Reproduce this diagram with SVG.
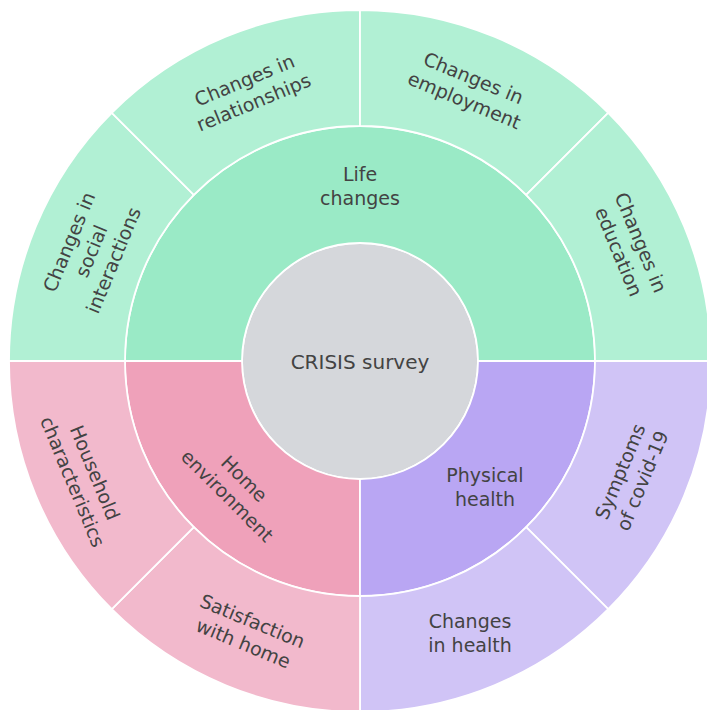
<svg xmlns="http://www.w3.org/2000/svg" width="707" height="710" viewBox="0 0 707 710">
<style>
.seg{stroke:#ffffff;stroke-width:1.8;stroke-linejoin:round}
.g1{fill:#9aeac6}.g2{fill:#b1f0d4}
.p1{fill:#efa1ba}.p2{fill:#f2b9cc}
.v1{fill:#b9a6f3}.v2{fill:#d0c4f6}
.core{fill:#d5d7db}
text{font-family:"DejaVu Sans",Verdana,sans-serif;font-size:19px;fill:#434343;text-anchor:middle}
.big{font-size:20px}
</style>
<rect width="707" height="710" fill="#ffffff"/>
<g id="connectors"></g>
<g id="node-crisis-survey">
<circle class="seg core" cx="360" cy="361" r="118"/>
<text class="big" x="360" y="369">CRISIS survey</text>
</g>
<g id="node-life-changes">
<path class="seg g1" d="M125 361 A235 235 0 0 1 595 361 L478 361 A118 118 0 0 0 242 361 Z"/>
<text transform="translate(360,186)"><tspan x="0" y="-5">Life</tspan><tspan x="0" y="19">changes</tspan></text>
</g>
<g id="node-home-environment">
<path class="seg p1" d="M360 596 A235 235 0 0 1 125 361 L242 361 A118 118 0 0 0 360 479 Z"/>
<text transform="translate(236,487) rotate(45)"><tspan x="0" y="-5">Home</tspan><tspan x="0" y="19">environment</tspan></text>
</g>
<g id="node-physical-health">
<path class="seg v1" d="M595 361 A235 235 0 0 1 360 596 L360 479 A118 118 0 0 0 478 361 Z"/>
<text transform="translate(485,487)"><tspan x="0" y="-5">Physical</tspan><tspan x="0" y="19">health</tspan></text>
</g>
<g id="node-changes-in-social-interactions">
<path class="seg g2" d="M9 361 A351 351 0 0 1 111.8 112.8 L193.8 194.8 A235 235 0 0 0 125 361 Z"/>
<text transform="translate(91,251) rotate(-67.5)"><tspan x="0" y="-17">Changes in</tspan><tspan x="0" y="7">social</tspan><tspan x="0" y="31">interactions</tspan></text>
</g>
<g id="node-changes-in-relationships">
<path class="seg g2" d="M111.8 112.8 A351 351 0 0 1 360 10 L360 126 A235 235 0 0 0 193.8 194.8 Z"/>
<text transform="translate(249,91) rotate(-22.5)"><tspan x="0" y="-5">Changes in</tspan><tspan x="0" y="19">relationships</tspan></text>
</g>
<g id="node-changes-in-employment">
<path class="seg g2" d="M360 10 A351 351 0 0 1 608.2 112.8 L526.2 194.8 A235 235 0 0 0 360 126 Z"/>
<text transform="translate(469,89) rotate(22.5)"><tspan x="0" y="-5">Changes in</tspan><tspan x="0" y="19">employment</tspan></text>
</g>
<g id="node-changes-in-education">
<path class="seg g2" d="M608.2 112.8 A351 351 0 0 1 711 361 L595 361 A235 235 0 0 0 526.2 194.8 Z"/>
<text transform="translate(630,247) rotate(67.5)"><tspan x="0" y="-5">Changes in</tspan><tspan x="0" y="19">education</tspan></text>
</g>
<g id="node-symptoms-of-covid-19">
<path class="seg v2" d="M711 361 A351 351 0 0 1 608.2 609.2 L526.2 527.2 A235 235 0 0 0 595 361 Z"/>
<text transform="translate(631,476) rotate(-67.5)"><tspan x="0" y="-5">Symptoms</tspan><tspan x="0" y="19">of covid-19</tspan></text>
</g>
<g id="node-changes-in-health">
<path class="seg v2" d="M608.2 609.2 A351 351 0 0 1 360 712 L360 596 A235 235 0 0 0 526.2 527.2 Z"/>
<text transform="translate(470,633)"><tspan x="0" y="-5">Changes</tspan><tspan x="0" y="19">in health</tspan></text>
</g>
<g id="node-satisfaction-with-home">
<path class="seg p2" d="M360 712 A351 351 0 0 1 111.8 609.2 L193.8 527.2 A235 235 0 0 0 360 596 Z"/>
<text transform="translate(248,632) rotate(22.5)"><tspan x="0" y="-5">Satisfaction</tspan><tspan x="0" y="19">with home</tspan></text>
</g>
<g id="node-household-characteristics">
<path class="seg p2" d="M111.8 609.2 A351 351 0 0 1 9 361 L125 361 A235 235 0 0 0 193.8 527.2 Z"/>
<text transform="translate(84,477) rotate(67.5)"><tspan x="0" y="-5">Household</tspan><tspan x="0" y="19">characteristics</tspan></text>
</g>
</svg>
